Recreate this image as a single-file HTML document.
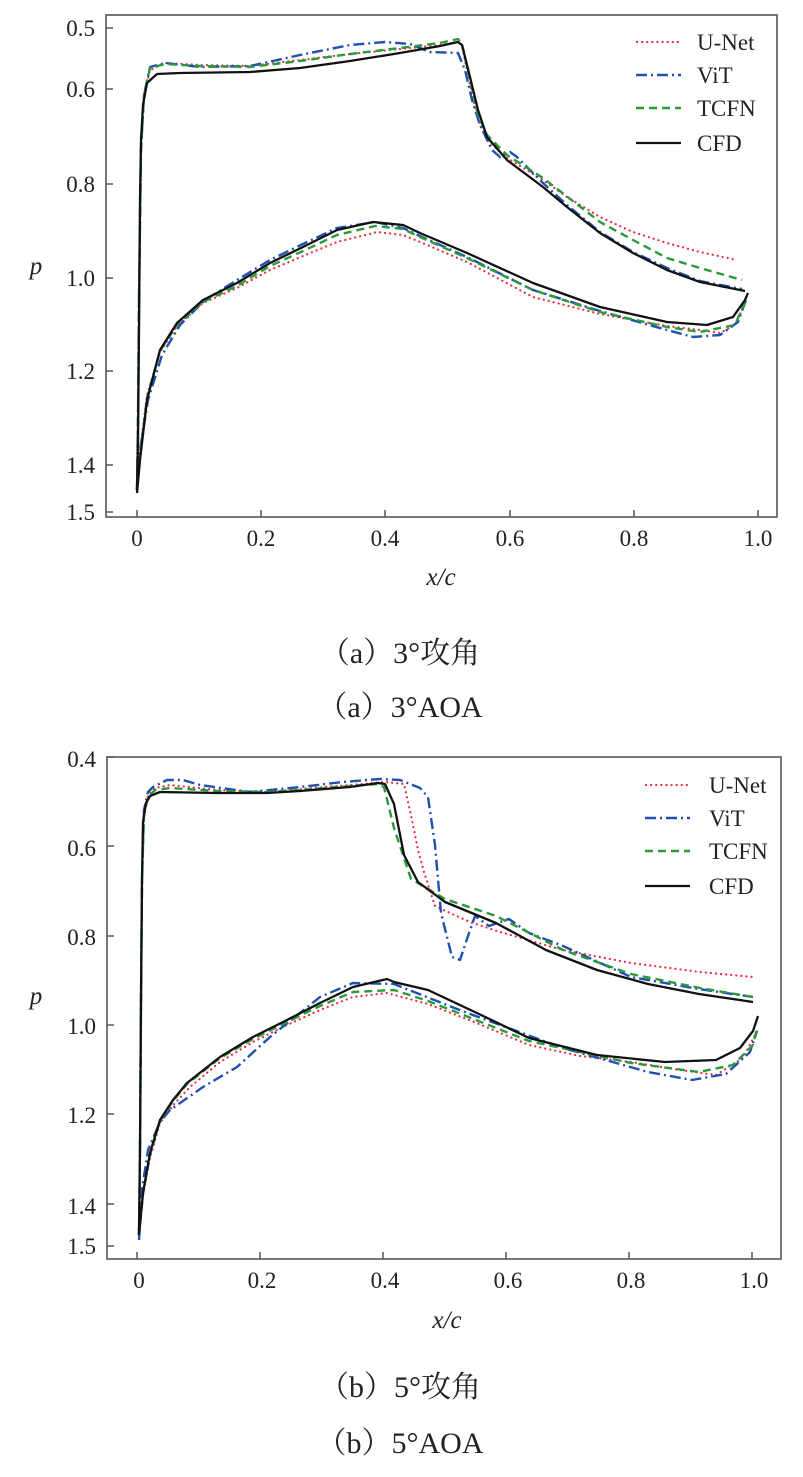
<!DOCTYPE html>
<html><head><meta charset="utf-8"><style>
html,body{margin:0;padding:0;background:#fff;}
svg{display:block;}
.t{font-family:"Liberation Serif",serif;font-size:23px;fill:#222;}
.c{font-family:"Liberation Serif","Noto Serif CJK SC",serif;font-size:30px;fill:#222;}
.i{font-family:"Liberation Serif",serif;font-size:25px;font-style:italic;fill:#222;}
.u{fill:none;stroke:#e8303a;stroke-width:2.2;stroke-dasharray:0.1 5;stroke-linecap:round;stroke-linejoin:round;}
.v{fill:none;stroke:#2050b0;stroke-width:2.4;stroke-dasharray:11 4 2 4;stroke-linejoin:round;}
.g{fill:none;stroke:#2a9a3a;stroke-width:2.4;stroke-dasharray:8 5;stroke-linejoin:round;}
.k{fill:none;stroke:#111;stroke-width:2.3;stroke-linejoin:round;}
.f{fill:none;stroke:#555;stroke-width:1.6;}
</style></head><body>
<svg width="803" height="1477" viewBox="0 0 803 1477" xmlns="http://www.w3.org/2000/svg">
<!-- TOP CHART -->
<rect class="f" x="106" y="15" width="671" height="502"/>
<g stroke="#555" stroke-width="1.5">
<line x1="106" y1="28" x2="113" y2="28"/><line x1="106" y1="89" x2="113" y2="89"/><line x1="106" y1="184" x2="113" y2="184"/><line x1="106" y1="278" x2="113" y2="278"/><line x1="106" y1="371" x2="113" y2="371"/><line x1="106" y1="465" x2="113" y2="465"/><line x1="106" y1="512" x2="113" y2="512"/>
<line x1="137" y1="517" x2="137" y2="510"/><line x1="261" y1="517" x2="261" y2="510"/><line x1="385" y1="517" x2="385" y2="510"/><line x1="510" y1="517" x2="510" y2="510"/><line x1="634" y1="517" x2="634" y2="510"/><line x1="758" y1="517" x2="758" y2="510"/>
</g>
<g class="t" text-anchor="end">
<text x="95" y="36">0.5</text><text x="95" y="97">0.6</text><text x="95" y="192">0.8</text><text x="95" y="286">1.0</text><text x="95" y="379">1.2</text><text x="95" y="473">1.4</text><text x="95" y="520">1.5</text>
</g>
<g class="t" text-anchor="middle">
<text x="137" y="546">0</text><text x="261" y="546">0.2</text><text x="385" y="546">0.4</text><text x="510" y="546">0.6</text><text x="634" y="546">0.8</text><text x="758" y="546">1.0</text>
</g>
<text class="i" x="36" y="274" text-anchor="middle">p</text>
<text class="i" x="441" y="585" text-anchor="middle">x/c</text>

<polyline class="u" points="137,490 138,420 139,300 141,150 144,95 150,70 165,63 200,65 250,66 300,60 350,54 400,49 440,45 458,42 462,46 470,85 478,120 487,140 507,158 543,180 567,197 600,217 633,232 667,243 700,252 737,260"/>
<polyline class="u" points="137,490 140,450 147,395 160,352 177,326 203,303 237,288 270,270 303,256 337,242 377,232 403,235 420,242 467,262 533,297 600,314 667,326 700,330 720,333 735,325 742,310"/>
<polyline class="v" points="137,490 138,420 139,300 141,150 144,95 150,67 165,63 200,67 250,66 300,55 350,45 385,42 410,44 430,52 458,53 465,70 472,100 480,125 492,150 500,157 510,152 517,157 543,183 567,205 600,232 633,252 667,268 700,281 742,289"/>
<polyline class="v" points="137,490 140,450 148,400 162,355 180,325 205,300 237,280 270,260 303,244 337,228 375,222 403,228 420,236 467,257 533,290 600,311 667,330 693,337 720,335 738,322 746,300"/>
<polyline class="g" points="137,490 138,420 139,300 141,150 144,95 150,68 165,64 200,66 250,67 300,61 350,54 400,48 440,43 458,39 462,44 470,80 478,115 487,135 507,155 543,178 600,222 633,240 667,258 700,268 742,280"/>
<polyline class="g" points="137,490 140,455 147,398 160,351 177,325 203,302 237,286 270,266 303,251 337,235 375,226 403,229 420,237 467,258 533,290 600,312 667,327 700,332 735,325 746,300"/>
<polyline class="k" points="137,490 138,440 139,330 140,200 141,140 143,105 147,83 157,74 180,73 250,72 300,68 350,61 400,53 440,46 458,42 462,45 470,77 478,110 487,137 507,160 543,187 567,207 600,233 633,253 667,270 700,282 740,290 745,291"/>
<polyline class="k" points="137,493 140,460 147,400 160,350 177,323 203,300 237,283 270,263 303,247 337,230 373,222 403,225 420,233 467,253 533,283 600,307 667,322 707,325 733,317 745,300 748,293"/>

<line class="u" x1="637" y1="42" x2="680" y2="42"/>
<line class="v" x1="636" y1="75" x2="681" y2="75"/>
<line class="g" x1="636" y1="108" x2="681" y2="108"/>
<line class="k" x1="636" y1="143" x2="681" y2="143"/>
<g class="t"><text x="697" y="50">U-Net</text><text x="697" y="83">ViT</text><text x="697" y="116">TCFN</text><text x="697" y="151">CFD</text></g>

<text class="c" x="400" y="663" text-anchor="middle">（a）3°攻角</text>
<text class="c" x="400" y="717" text-anchor="middle">（a）3°AOA</text>

<!-- BOTTOM CHART -->
<rect class="f" x="107" y="757" width="674" height="502"/>
<g stroke="#555" stroke-width="1.5">
<line x1="107" y1="757" x2="114" y2="757"/><line x1="107" y1="846" x2="114" y2="846"/><line x1="107" y1="936" x2="114" y2="936"/><line x1="107" y1="1025" x2="114" y2="1025"/><line x1="107" y1="1114" x2="114" y2="1114"/><line x1="107" y1="1204" x2="114" y2="1204"/><line x1="107" y1="1246" x2="114" y2="1246"/>
<line x1="137" y1="1259" x2="137" y2="1252"/><line x1="260" y1="1259" x2="260" y2="1252"/><line x1="383" y1="1259" x2="383" y2="1252"/><line x1="506" y1="1259" x2="506" y2="1252"/><line x1="629" y1="1259" x2="629" y2="1252"/><line x1="752" y1="1259" x2="752" y2="1252"/>
</g>
<g class="t" text-anchor="end">
<text x="96" y="767">0.4</text><text x="96" y="856">0.6</text><text x="96" y="945">0.8</text><text x="96" y="1034">1.0</text><text x="96" y="1123">1.2</text><text x="96" y="1214">1.4</text><text x="96" y="1254">1.5</text>
</g>
<g class="t" text-anchor="middle">
<text x="139" y="1288">0</text><text x="262" y="1288">0.2</text><text x="385" y="1288">0.4</text><text x="508" y="1288">0.6</text><text x="631" y="1288">0.8</text><text x="754" y="1288">1.0</text>
</g>
<text class="i" x="36" y="1004" text-anchor="middle">p</text>
<text class="i" x="447" y="1328" text-anchor="middle">x/c</text>

<polyline class="u" points="139,1235 140,1150 141,1000 142,880 144,815 148,795 155,788 170,785 217,790 267,792 300,789 350,785 385,782 404,784 412,820 418,850 424,872 435,906 450,913 470,922 500,932 563,950 631,963 700,972 753,977"/>
<polyline class="u" points="139,1235 143,1195 150,1158 160,1123 175,1103 190,1087 220,1062 253,1042 287,1025 320,1010 353,997 387,993 428,1004 479,1024 529,1045 580,1056 631,1062 680,1070 716,1075 743,1058 757,1031"/>
<polyline class="v" points="139,1235 140,1150 141,1000 142,880 144,810 148,792 153,787 167,780 183,780 200,785 250,792 300,787 343,782 380,779 400,780 420,788 428,797 435,845 441,913 452,957 460,960 468,936 475,916 489,926 509,919 529,933 563,946 631,977 699,989 753,997"/>
<polyline class="v" points="139,1240 142,1190 148,1150 160,1122 170,1110 203,1087 237,1067 270,1037 320,997 353,983 394,984 462,1011 563,1048 648,1072 692,1080 726,1074 750,1052 757,1031"/>
<polyline class="g" points="139,1235 140,1150 141,1000 142,880 144,815 148,797 155,790 170,788 217,791 267,792 300,790 350,786 378,784 384,787 394,828 411,879 445,899 496,916 563,950 631,974 700,988 753,997"/>
<polyline class="g" points="139,1235 143,1194 150,1155 160,1121 173,1101 187,1084 220,1058 253,1039 287,1022 320,1006 353,992 394,990 428,1001 529,1041 631,1063 699,1072 733,1065 753,1045 757,1028"/>
<polyline class="k" points="139,1235 140,1150 141,1000 142,880 143,822 146,803 150,796 160,792 217,793 267,793 300,791 350,787 378,783 385,784 394,804 404,855 418,882 445,902 496,923 546,950 597,970 648,984 699,994 753,1002"/>
<polyline class="k" points="139,1235 143,1193 150,1153 160,1120 173,1100 187,1083 220,1057 253,1037 287,1020 320,1003 353,987 387,979 394,982 428,990 479,1014 529,1038 597,1055 665,1062 716,1060 740,1048 753,1031 758,1016"/>

<line class="u" x1="646" y1="785" x2="688" y2="785"/>
<line class="v" x1="645" y1="818" x2="690" y2="818"/>
<line class="g" x1="645" y1="851" x2="690" y2="851"/>
<line class="k" x1="645" y1="886" x2="690" y2="886"/>
<g class="t"><text x="709" y="793">U-Net</text><text x="709" y="826">ViT</text><text x="709" y="859">TCFN</text><text x="709" y="894">CFD</text></g>

<text class="c" x="400" y="1397" text-anchor="middle">（b）5°攻角</text>
<text class="c" x="400" y="1453" text-anchor="middle">（b）5°AOA</text>
</svg>
</body></html>
